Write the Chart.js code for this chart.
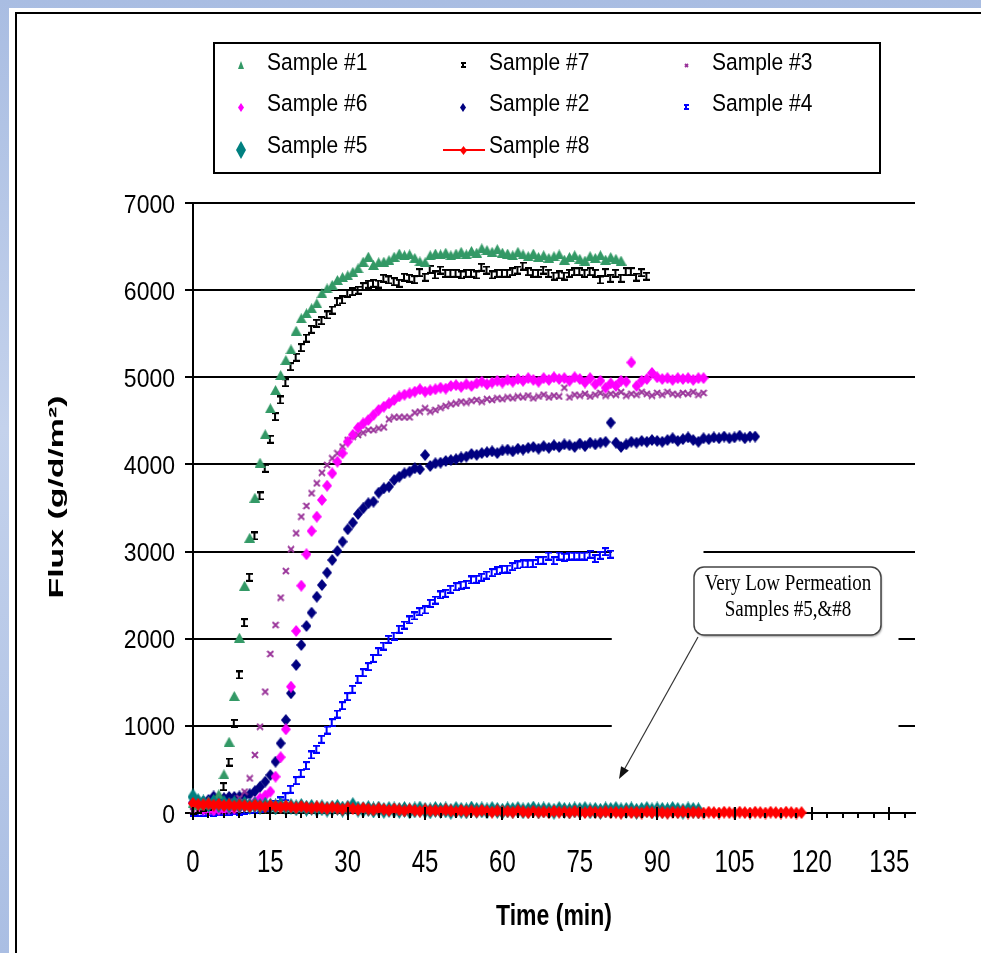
<!DOCTYPE html>
<html>
<head>
<meta charset="utf-8">
<title>Flux vs time</title>
<script src="https://cdn.jsdelivr.net/npm/chart.js@4.4.1/dist/chart.umd.min.js"></script>
<style>
  html, body { margin: 0; padding: 0; overflow: hidden; }
  body {
    width: 981px; height: 953px; position: relative;
    background: linear-gradient(180deg, #a9bde2 0%, #c4d2ec 45%, #aabee3 100%);
  }
  #sheet { position: absolute; left: 9px; top: 8px; width: 972px; height: 945px; background: #fff; }
  #frame {
    position: absolute; left: 15px; top: 12px; width: 964px; height: 939px;
    border-left: 2px solid #000; border-top: 2px solid #000;
  }
  #wrap { position: absolute; left: 0; top: 0; width: 981px; height: 953px; }
  #edge { position: absolute; left: 930px; top: 14px; width: 51px; height: 939px; background: #fff; z-index: 5; }
</style>
</head>
<body>
<div id="sheet"></div>
<div id="frame"></div>
<div id="wrap"><canvas id="chart"></canvas></div>
<div id="edge"></div>
<script>
// readings taken once a minute, first point at t = 0
const STEP_MIN = 1;

const xTickStep = 15;
const yTicks = [0, 1000, 2000, 3000, 4000, 5000, 6000, 7000];

// Sample #1 (green triangles)
const sample1 = [110, 95, 105, 120, 150, 215, 444, 818, 1343, 2012,
  2609, 3159, 3618, 4020, 4346, 4644, 4854, 5026, 5198, 5321,
  5535, 5677, 5734, 5792, 5849, 5964, 6020, 6060, 6117, 6150,
  6170, 6210, 6250, 6327, 6384, 6290, 6320, 6327, 6345, 6384,
  6420, 6400, 6410, 6370, 6330, 6320, 6400, 6420, 6410, 6430,
  6400, 6420, 6440, 6410, 6450, 6430, 6480, 6460, 6440, 6470,
  6430, 6420, 6400, 6440, 6410, 6390, 6420, 6380, 6400, 6370,
  6390, 6410, 6350, 6380, 6400, 6360, 6340, 6390, 6370, 6400,
  6350, 6380, 6360, 6340];

// Sample #7 (black)
const sample7 = [30, 40, 60, 80, 110, 160, 302, 585, 1029, 1584,
  2184, 2705, 3179, 3638, 3956, 4289, 4548, 4740, 4938, 5122,
  5230, 5340, 5450, 5551, 5620, 5650, 5715, 5772, 5868, 5887,
  5964, 5983, 6000, 6040, 6067, 6079, 6070, 6136, 6117, 6097,
  6079, 6148, 6136, 6120, 6201, 6148, 6239, 6174, 6231, 6193,
  6193, 6193, 6174, 6193, 6193, 6174, 6262, 6231, 6174, 6193,
  6193, 6193, 6212, 6231, 6277, 6212, 6193, 6193, 6231, 6193,
  6162, 6174, 6162, 6193, 6212, 6212, 6193, 6212, 6193, 6117,
  6201, 6136, 6193, 6136, 6212, 6212, 6150, 6200, 6160];

// Sample #3 (purple x)
const sample3 = [20, 30, 40, 50, 60, 70, 80, 100, 130, 170,
  245, 398, 666, 990, 1392, 1825, 2157, 2471, 2777, 3026,
  3210, 3401, 3523, 3669, 3784, 3905, 3994, 4070, 4128, 4204,
  4280, 4319, 4338, 4364, 4395, 4395, 4414, 4426, 4518, 4541,
  4541, 4541, 4541, 4594, 4606, 4644, 4606, 4625, 4650, 4670,
  4690, 4700, 4720, 4710, 4730, 4740, 4720, 4750, 4740, 4760,
  4750, 4770, 4760, 4780, 4770, 4790, 4760, 4780, 4800, 4770,
  4790, 4780, 4880, 4770, 4800, 4790, 4810, 4780, 4800, 4820,
  4790, 4810, 4800, 4830, 4790, 4810, 4800, 4830, 4810, 4790,
  4820, 4800, 4830, 4810, 4800, 4820, 4810, 4830, 4800, 4820];

// Sample #6 (magenta diamonds)
const sample6 = [110, 80, 40, 30, 30, 40, 40, 50, 50, 60,
  80, 100, 130, 168, 200, 245, 417, 640, 960, 1450,
  2089, 2609, 2969, 3236, 3401, 3592, 3756, 3898, 4032, 4128,
  4261, 4340, 4420, 4470, 4510, 4567, 4625, 4663, 4700, 4740,
  4780, 4800, 4816, 4835, 4862, 4835, 4850, 4862, 4880, 4870,
  4900, 4910, 4890, 4920, 4900, 4930, 4950, 4920, 4940, 4960,
  4940, 4970, 4950, 4980, 4960, 4990, 4970, 4950, 4990, 4970,
  5000, 4980, 4990, 4960, 5000, 4980, 4940, 4990, 4920, 4960,
  4880, 4930, 4900, 4960, 4950, 5170, 4900, 4960, 4980, 5050,
  5000, 4980, 4990, 4970, 4990, 4980, 4990, 4970, 4990, 4990];

// Sample #2 (navy diamonds)
const sample2 = [120, 110, 130, 150, 190, 170, 170, 185, 185, 190,
  195, 215, 250, 300, 360, 436, 589, 800, 1067, 1374,
  1698, 1928, 2146, 2299, 2482, 2616, 2758, 2903, 3007, 3114,
  3256, 3332, 3431, 3497, 3554, 3573, 3676, 3726, 3745, 3821,
  3859, 3898, 3917, 3956, 3944, 4108, 3982, 4013, 4020, 4040,
  4050, 4060, 4080, 4090, 4120, 4110, 4130, 4140, 4150, 4130,
  4160, 4170, 4150, 4180, 4170, 4190, 4200, 4180, 4210, 4190,
  4220, 4200, 4230, 4220, 4200, 4240, 4210, 4250, 4230, 4250,
  4260, 4480, 4250, 4200, 4230, 4260, 4250, 4270, 4260, 4280,
  4270, 4260, 4280, 4300, 4270, 4290, 4310, 4280, 4260, 4300,
  4290, 4310, 4300, 4320, 4300, 4310, 4330, 4300, 4320, 4320];

// Sample #4 (blue)
const sample4 = [10, 5, 10, 15, 10, 20, 15, 20, 25, 20,
  30, 35, 40, 50, 60, 80, 100, 138, 187, 272,
  371, 456, 543, 666, 731, 846, 952, 1036, 1136, 1231,
  1335, 1420, 1534, 1610, 1679, 1775, 1851, 1916, 1993, 2031,
  2108, 2157, 2215, 2261, 2310, 2330, 2406, 2444, 2502, 2521,
  2567, 2597, 2616, 2624, 2674, 2682, 2705, 2731, 2758, 2781,
  2797, 2800, 2827, 2846, 2858, 2858, 2862, 2896, 2900, 2949,
  2896, 2949, 2935, 2949, 2949, 2949, 2949, 2970, 2920, 2958,
  2999, 2970];

// Sample #5 (teal diamonds)
const sample5 = [185, 130, 115, 100, 120, 95, 110, 90, 105, 85,
  100, 80, 95, 75, 90, 80, 70, 85, 65, 75,
  60, 75, 55, 65, 50, 60, 45, 55, 65, 45,
  55, 85, 45, 40, 50, 35, 45, 30, 40, 35,
  30, 40, 25, 35, 45, 30, 25, 40, 30, 35,
  20, 40, 30, 25, 45, 30, 35, 25, 40, 30,
  20, 35, 30, 40, 25, 30, 45, 25, 35, 30,
  20, 40, 30, 25, 35, 30, 40, 25, 30, 20,
  35, 30, 40, 25, 30, 35, 20, 30, 40, 25,
  35, 30, 25, 40, 30, 20, 35, 30, 25];

// Sample #8 (red line)
const sample8 = [110, 100, 95, 105, 90, 100, 85, 95, 80, 90,
  85, 75, 90, 80, 70, 85, 75, 65, 80, 70,
  60, 75, 65, 55, 70, 60, 50, 65, 55, 45,
  60, 50, 40, 55, 45, 35, 50, 40, 30, 45,
  35, 25, 40, 30, 20, 35, 25, 30, 20, 35,
  25, 15, 30, 20, 25, 15, 30, 20, 10, 25,
  15, 20, 10, 25, 15, 5, 20, 10, 15, 5,
  20, 10, 15, 5, 20, 10, 5, 15, 10, 5,
  15, 5, 10, 0, 15, 5, 10, 0, 15, 5,
  10, 5, 0, 10, 5, 15, 0, 10, 5, 0,
  10, 5, 0, 10, 5, 0, 10, 5, 0, 10,
  5, 0, 10, 5, 0, 10, 5, 0, 5];

const SANS = '"Liberation Sans", Arial, sans-serif';
const SERIF = '"Liberation Serif", "Times New Roman", serif';

// the original picture is stretched vertically, so text is drawn the same way
function tallText(ctx, text, x, baseline, font, sy, align) {
  ctx.save();
  ctx.font = font;
  ctx.textAlign = align;
  ctx.textBaseline = "alphabetic";
  ctx.fillStyle = "#000";
  ctx.translate(x, baseline);
  ctx.scale(1, sy);
  ctx.fillText(text, 0, 0);
  ctx.restore();
}

// small marker bitmaps, Excel style
function marker(kind, color, w, h) {
  const c = document.createElement("canvas");
  c.width = w;
  c.height = h;
  const g = c.getContext("2d");
  g.fillStyle = color;
  g.strokeStyle = color;
  if (kind === "tri") {
    g.beginPath();
    g.moveTo(w / 2, 0);
    g.lineTo(w, h);
    g.lineTo(0, h);
    g.closePath();
    g.fill();
  } else if (kind === "dia") {
    g.beginPath();
    g.moveTo(w / 2, 0);
    g.lineTo(w, h / 2);
    g.lineTo(w / 2, h);
    g.lineTo(0, h / 2);
    g.closePath();
    g.fill();
  } else if (kind === "beam") {
    g.fillRect(0, 0, w, 2);
    g.fillRect(0, h - 2, w, 2);
    g.fillRect(Math.floor(w / 2) - 1, 0, 2, h);
  } else if (kind === "x") {
    g.lineWidth = 1.8;
    g.beginPath();
    g.moveTo(1, 1); g.lineTo(w - 1, h - 1);
    g.moveTo(w - 1, 1); g.lineTo(1, h - 1);
    g.stroke();
  }
  return c;
}

const GREEN = "#339966", PURPLE = "#993399", MAGENTA = "#ff00ff", NAVY = "#000080",
      BLUE = "#0000ff", TEAL = "#008080", RED = "#ff0000", BLACK = "#000000";

function points(values) {
  return values.map((v, i) => ({ x: i * STEP_MIN, y: v }));
}

function series(label, values, color, pt, legendPt, order) {
  return {
    label: label,
    data: points(values),
    showLine: false,
    borderColor: color,
    backgroundColor: color,
    pointStyle: pt,
    pointRadius: 4,
    pointHoverRadius: 4,
    clip: false,
    order: order,
    legendPt: legendPt
  };
}

const s8 = series("Sample #8", sample8, RED, marker("dia", RED, 10, 13), marker("dia", RED, 7, 9), 0);
s8.showLine = true;
s8.borderWidth = 3;

const datasets = [
  s8,
  series("Sample #5", sample5, TEAL, marker("dia", TEAL, 11, 17), marker("dia", TEAL, 10, 18), 1),
  series("Sample #1", sample1, GREEN, marker("tri", GREEN, 11, 10), marker("tri", GREEN, 6, 8), 2),
  series("Sample #7", sample7, BLACK, marker("beam", BLACK, 7, 9), marker("beam", BLACK, 5, 6), 3),
  series("Sample #6", sample6, MAGENTA, marker("dia", MAGENTA, 10, 12), marker("dia", MAGENTA, 6, 9), 4),
  series("Sample #3", sample3, PURPLE, marker("x", PURPLE, 8, 8), marker("x", PURPLE, 5, 5), 5),
  series("Sample #2", sample2, NAVY, marker("dia", NAVY, 10, 12), marker("dia", NAVY, 6, 9), 6),
  series("Sample #4", sample4, BLUE, marker("beam", BLUE, 7, 9), marker("beam", BLUE, 5, 6), 7)
];

// legend rows as laid out in the original
const legendRows = [
  ["Sample #1", "Sample #7", "Sample #3"],
  ["Sample #6", "Sample #2", "Sample #4"],
  ["Sample #5", "Sample #8"]
];

// white patch behind the callout that hides part of the grid
const maskPlugin = {
  id: "mask",
  beforeDatasetsDraw(chart) {
    const { ctx, scales: { x, y } } = chart;
    ctx.save();
    ctx.fillStyle = "#fff";
    const a = x.getPixelForValue(81.2), b = x.getPixelForValue(98.6), c = x.getPixelForValue(136.8);
    const yBot = y.getPixelForValue(400);
    ctx.fillRect(a, y.getPixelForValue(3150), b - a + 2, yBot - y.getPixelForValue(3150));
    ctx.fillRect(b - 2, y.getPixelForValue(2900), c - b + 2, yBot - y.getPixelForValue(2900));
    ctx.restore();
  }
};

const decorPlugin = {
  id: "decor",
  afterDatasetsDraw(chart) {
    const { ctx, scales: { x, y } } = chart;
    const y0 = y.getPixelForValue(0);
    ctx.save();
    ctx.strokeStyle = "#000";
    ctx.lineWidth = 2;
    ctx.beginPath();
    for (let m = 0; m <= 138; m += 3) {
      const px = Math.round(x.getPixelForValue(m));
      const major = m % xTickStep === 0;
      ctx.moveTo(px, major ? y0 - 6 : y0);
      ctx.lineTo(px, major ? y0 + 7 : y0 + 5);
    }
    ctx.stroke();
    ctx.restore();
  },
  afterDraw(chart) {
    const { ctx, scales: { x, y } } = chart;

    // tick labels and x title
    x.ticks.forEach(t => {
      tallText(ctx, String(t.value), x.getPixelForValue(t.value), 872, "24px " + SANS, 1.34, "center");
    });
    y.ticks.forEach(t => {
      tallText(ctx, String(t.value), 175, y.getPixelForValue(t.value) + 9.5, "23px " + SANS, 1.15, "right");
    });
    tallText(ctx, "Time (min)", (x.left + x.right) / 2, 925, "bold 23px " + SANS, 1.32, "center");

    // y axis title, stretched like the original
    ctx.save();
    const yt = "Flux (g/d/m\u00b2)";
    ctx.translate(57, 497);
    ctx.rotate(-Math.PI / 2);
    ctx.font = "bold 21px " + SANS;
    const tw = ctx.measureText(yt).width;
    ctx.scale(203 / tw, 1);
    ctx.textAlign = "center";
    ctx.textBaseline = "middle";
    ctx.fillStyle = "#000";
    ctx.fillText(yt, 0, 0);
    ctx.restore();

    // legend box
    ctx.save();
    ctx.strokeStyle = "#000";
    ctx.lineWidth = 2;
    ctx.strokeRect(214, 43, 666, 130);
    const colX = [241, 463, 686];
    const rowY = [65, 107, 150];
    const rowBase = [70, 111, 153];
    legendRows.forEach((row, r) => {
      row.forEach((name, c) => {
        const ds = datasets.find(d => d.label === name);
        const cx = colX[c], cy = rowY[r];
        if (ds.showLine) {
          ctx.strokeStyle = ds.borderColor;
          ctx.lineWidth = 2;
          ctx.beginPath();
          ctx.moveTo(cx - 20, cy);
          ctx.lineTo(cx + 22, cy);
          ctx.stroke();
        }
        const img = ds.legendPt;
        ctx.drawImage(img, Math.round(cx - img.width / 2), Math.round(cy - img.height / 2));
        tallText(ctx, name, cx + 26, rowBase[r], "21px " + SANS, 1.17, "left");
      });
    });
    ctx.restore();

    // callout
    ctx.save();
    const bx = 694, by = 567, bw = 187, bh = 68, br = 10;
    ctx.beginPath();
    ctx.roundRect(bx, by, bw, bh, br);
    ctx.fillStyle = "#fff";
    ctx.shadowColor = "rgba(0,0,0,0.35)";
    ctx.shadowOffsetX = 1;
    ctx.shadowOffsetY = 2;
    ctx.shadowBlur = 2;
    ctx.fill();
    ctx.shadowColor = "transparent";
    ctx.strokeStyle = "#444";
    ctx.lineWidth = 1.5;
    ctx.stroke();
    ctx.fillStyle = "#000";
    ctx.font = "19px " + SERIF;
    ctx.textAlign = "center";
    ctx.textBaseline = "middle";
    [["Very Low Permeation", 584], ["Samples #5,&#8", 610]].forEach(([t, ty]) => {
      ctx.save();
      ctx.translate(788, ty);
      ctx.scale(1, 1.2);
      ctx.fillText(t, 0, 0);
      ctx.restore();
    });
    // arrow
    const ax0 = 698, ay0 = 637, ax1 = 619, ay1 = 779;
    const ang = Math.atan2(ay1 - ay0, ax1 - ax0);
    ctx.strokeStyle = "#333";
    ctx.lineWidth = 1.2;
    ctx.beginPath();
    ctx.moveTo(ax0, ay0);
    ctx.lineTo(ax1 - Math.cos(ang) * 8, ay1 - Math.sin(ang) * 8);
    ctx.stroke();
    ctx.fillStyle = "#111";
    ctx.beginPath();
    ctx.moveTo(ax1, ay1);
    ctx.lineTo(ax1 - Math.cos(ang - 0.35) * 13, ay1 - Math.sin(ang - 0.35) * 13);
    ctx.lineTo(ax1 - Math.cos(ang + 0.35) * 13, ay1 - Math.sin(ang + 0.35) * 13);
    ctx.closePath();
    ctx.fill();
    ctx.restore();
  }
};

const chart = new Chart(document.getElementById("chart"), {
  type: "scatter",
  data: { datasets: datasets },
  options: {
    responsive: true,
    maintainAspectRatio: false,
    animation: false,
    devicePixelRatio: 1,
    layout: { padding: { top: 203, right: 66, bottom: 0, left: 0 } },
    plugins: {
      legend: { display: false },
      tooltip: { enabled: false }
    },
    scales: {
      x: {
        type: "linear",
        position: "bottom",
        min: 0,
        max: 140,
        afterFit: s => { s.height = 140; },
        ticks: {
          stepSize: xTickStep,
          includeBounds: false,
          autoSkip: false,
          maxRotation: 0,
          color: "rgba(0,0,0,0)",
          font: { family: SANS, size: 24 }
        },
        grid: { drawOnChartArea: false, drawTicks: true, tickLength: 8, tickColor: "rgba(0,0,0,0)" },
        border: { display: true, color: "#000", width: 2 },
        title: { display: false }
      },
      y: {
        min: yTicks[0],
        max: yTicks[yTicks.length - 1],
        afterFit: s => { s.width = 193; },
        afterBuildTicks: s => { s.ticks = yTicks.map(v => ({ value: v })); },
        ticks: {
          color: "rgba(0,0,0,0)",
          font: { family: SANS, size: 23 }
        },
        grid: { color: "#000", lineWidth: 2, tickLength: 8, tickColor: "#000", tickWidth: 2 },
        border: { display: true, color: "#000", width: 2 }
      }
    }
  },
  plugins: [maskPlugin, decorPlugin]
});
</script>
</body>
</html>
